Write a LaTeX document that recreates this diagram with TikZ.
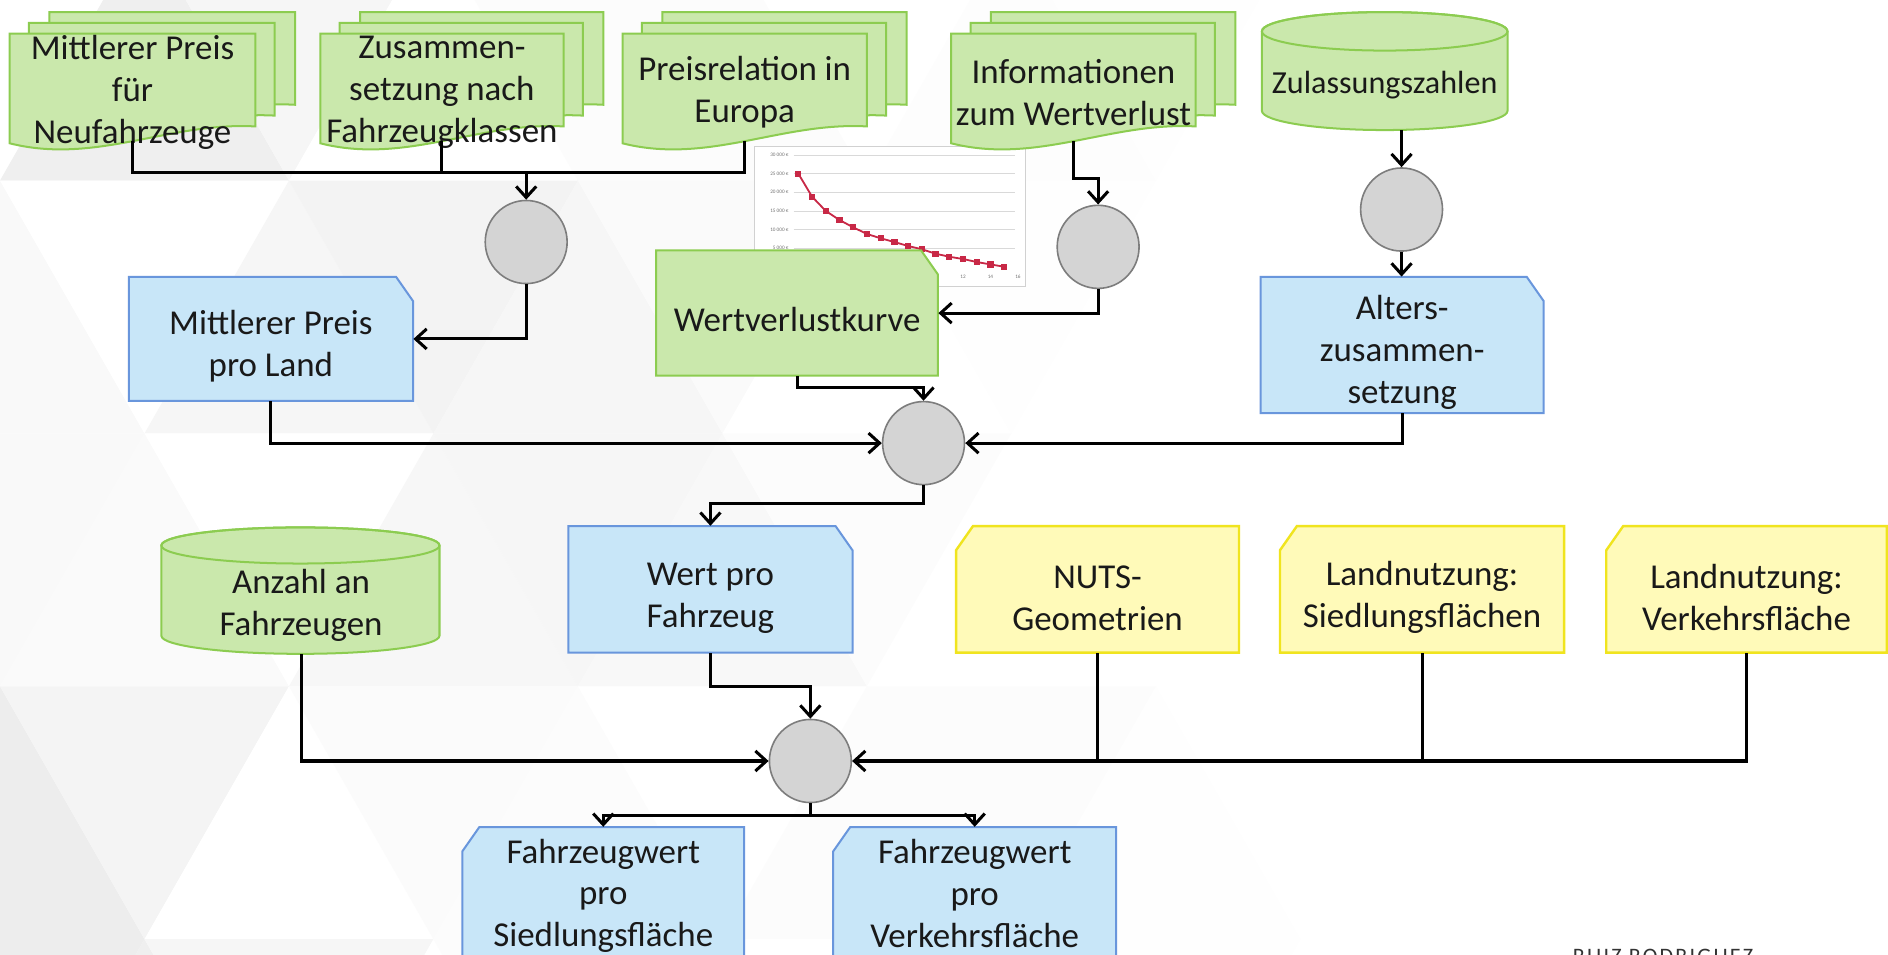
\documentclass[tikz,border=0pt]{standalone}
\usepackage{fontspec}
\setmainfont{Carlito}
\newfontfamily\ruizfont[LetterSpace=10]{Carlito}
\usetikzlibrary{arrows.meta,shapes.geometric,calc,plotmarks}
\pgfdeclarelayer{back}
\pgfdeclarelayer{bg}
\pgfsetlayers{back,bg,main}
\definecolor{gfill}{RGB}{202,232,172}
\definecolor{gline}{RGB}{140,204,80}
\definecolor{bfill}{RGB}{200,230,248}
\definecolor{bline}{RGB}{105,150,220}
\definecolor{yfill}{RGB}{255,250,185}
\definecolor{yline}{RGB}{240,228,30}
\definecolor{cfill}{RGB}{212,212,212}
\definecolor{cline}{RGB}{125,125,125}
\definecolor{curvecol}{RGB}{200,40,70}
\tikzset{
 frame/.style={inner sep=0pt},
 txt/.style={inner sep=0pt, align=center, font=\fontsize{17.4}{20.9}\selectfont, text=black!90},
 gstyle/.style={fill=gfill, draw=gline, line width=1pt},
 bstyle/.style={fill=bfill, draw=bline, line width=1pt},
 ystyle/.style={fill=yfill, draw=yline, line width=1.2pt},
 proc/.style={ellipse, fill=cfill, draw=cline, line width=0.8pt, minimum width=40.8pt, minimum height=41.4pt, inner sep=0pt},
 conn/.style={draw=black, line width=1.5pt},
 arr/.style={conn, -{Straight Barb[length=5.5pt,width=10pt]}},
 tiny/.style={inner sep=0.5pt, font=\fontsize{2.6}{3}\selectfont, text=black!55},
}
\newcommand\docshape[5]{%
 \filldraw[#5] (#1,#2) -- (#3,#2) -- (#3,{#4-14}) .. controls ({#1+0.65*(#3-#1)},{#4-18}) and ({#1+0.35*(#3-#1)},{#4+18}) .. (#1,#4) -- cycle;}
% name x1 y1 x2 yb text
\newcommand\docstack[6]{%
 \begin{pgfonlayer}{bg}
 \begin{scope}[shift={(33,-18)}]\docshape{#2}{#3}{#4}{#5}{gstyle}\end{scope}
 \begin{scope}[shift={(16,-9)}]\docshape{#2}{#3}{#4}{#5}{gstyle}\end{scope}
 \docshape{#2}{#3}{#4}{#5}{gstyle}
 \end{pgfonlayer}
 \node[frame, minimum width={(#4-#2)*0.6pt}, minimum height={(#5-#3-2)*0.6pt}] (#1) at ({(#2+#4)/2},{(#3+#5-2)/2}) {};
 \node[txt] (#1t) at ({(#2+#4)/2},{(#3+#5-2)/2+4}) {#6};}
% name x1 y1 x2 y2 style text dy
\newcommand\boxNE[8]{%
 \begin{pgfonlayer}{bg}
 \filldraw[#6] (#2,#3) -- ({#4-14},#3) -- (#4,{#3+20}) -- (#4,#5) -- (#2,#5) -- cycle;
 \end{pgfonlayer}
 \node[frame, minimum width={(#4-#2)*0.6pt}, minimum height={(#5-#3)*0.6pt}] (#1) at ({(#2+#4)/2},{(#3+#5)/2}) {};
 \node[txt] (#1t) at ({(#2+#4)/2},{(#3+#5)/2+#8}) {#7};}
\newcommand\boxNW[8]{%
 \begin{pgfonlayer}{bg}
 \filldraw[#6] (#2,{#3+20}) -- ({#2+14},#3) -- (#4,#3) -- (#4,#5) -- (#2,#5) -- cycle;
 \end{pgfonlayer}
 \node[frame, minimum width={(#4-#2)*0.6pt}, minimum height={(#5-#3)*0.6pt}] (#1) at ({(#2+#4)/2},{(#3+#5)/2}) {};
 \node[txt] (#1t) at ({(#2+#4)/2},{(#3+#5)/2+#8}) {#7};}
\newcommand\cyl[5]{%
 \begin{pgfonlayer}{bg}
 \filldraw[gstyle] (#1,{#2+#5}) -- (#1,{#4-#5}) arc[start angle=180, end angle=0, x radius={(#3-#1)/2}, y radius=#5] -- (#3,{#2+#5}) arc[start angle=0, end angle=-180, x radius={(#3-#1)/2}, y radius=#5] -- cycle;
 \draw[gstyle, fill=none] ({(#1+#3)/2},{#2+#5}) ellipse [x radius={(#3-#1)/2}, y radius=#5];
 \end{pgfonlayer}}
\begin{document}
\begin{tikzpicture}[x=0.6pt, y=-0.6pt]
\useasboundingbox (0,0) rectangle (1568,793);
% background
\begin{pgfonlayer}{back}
\fill[white] (0,0) rectangle (1568,793);
\foreach \r in {0,...,4}{
 \foreach \c in {-1,...,4}{
  \pgfmathsetmacro\xo{\c*240 + mod(\r,2)*120}
  \pgfmathsetmacro\yt{\r*210-60}
  \pgfmathsetmacro\yb{\yt+210}
  \pgfmathsetmacro\sa{max(0,(mod(\r*3+\c*5+7,4))*2.4*(1-(\xo+120)/1000))}
  \pgfmathsetmacro\sb{max(0,(mod(\r*5+\c*3+2,4))*2.4*(1-(\xo+240)/1000))}
  \fill[black!\sa] (\xo,\yb) -- ({\xo+240},\yb) -- ({\xo+120},\yt) -- cycle;
  \fill[black!\sb] ({\xo+120},\yt) -- ({\xo+360},\yt) -- ({\xo+240},\yb) -- cycle;
 }}
\end{pgfonlayer}
% chart
\begin{pgfonlayer}{bg}
\filldraw[fill=white, draw=black!18, line width=0.5pt] (627,122) rectangle (852,238);
\foreach \yy/\lab [count=\i] in {128.7/30 000 €, 144.2/25 000 €, 159.7/20 000 €, 175.2/15 000 €, 190.7/10 000 €, 206.2/5 000 €}{
 \draw[black!15, line width=0.4pt] (659,\yy) -- (843,\yy);
 \node[tiny, anchor=east] (cyl\i) at (656,\yy) {\lab};}
\foreach \xx/\lab [count=\i] in {799.8/12, 822.6/14, 845.4/16}
 \node[tiny] (cxl\i) at (\xx,229.8) {\lab};
\draw[curvecol, line width=0.9pt, mark=square*, mark size=1.1pt, mark options={fill=curvecol}] plot coordinates {(663,144.2) (674.4,163.3) (685.8,175.2) (697.2,182.7) (708.6,188.8) (720,194.3) (731.4,197.9) (742.8,201.0) (754.2,204.3) (765.6,207.0) (777,210.7) (788.4,213.2) (799.8,215.1) (811.2,217.6) (822.6,219.6) (834,221.5)};
\end{pgfonlayer}
% top documents
\docstack{d1}{8}{28}{212}{119}{Mittlerer Preis\\für\\Neufahrzeuge}
\docstack{d2}{266}{28}{468}{119}{Zusammen-\\setzung nach\\Fahrzeugklassen}
\docstack{d3}{517}{28}{720}{119}{Preisrelation in\\Europa}
\docstack{d4}{790}{28}{993}{119}{Informationen\\zum Wertverlust}
% cylinders
\cyl{1048}{10}{1252}{108}{16}
\node[frame, minimum width=122.4pt, minimum height=48pt] (zul) at (1150,68) {};
\node[txt, font=\fontsize{16}{20.9}\selectfont] (zult) at (1150,71) {Zulassungszahlen};
\cyl{134}{438}{365}{543}{15}
\node[frame, minimum width=138.6pt, minimum height=51pt] (anz) at (250,500.5) {};
\node[txt] (anzt) at (250,502.5) {Anzahl an\\Fahrzeugen};
% boxes
\boxNE{b1}{107}{230}{343}{333}{bstyle}{Mittlerer Preis\\pro Land}{6}
\boxNE{wvk}{545}{208}{779}{312}{gstyle}{Wertverlustkurve}{5}
\boxNE{b2}{1047}{230}{1282}{343}{bstyle}{Alters-\\zusammen-\\setzung}{6}
\boxNE{b3}{472}{437}{708}{542}{bstyle}{Wert pro\\Fahrzeug}{7}
\boxNW{y1}{794}{437}{1029}{542}{ystyle}{NUTS-\\Geometrien}{7}
\boxNW{y2}{1063}{437}{1299}{542}{ystyle}{Landnutzung:\\Siedlungsflächen}{7}
\boxNW{y3}{1334}{437}{1567}{542}{ystyle}{Landnutzung:\\Verkehrsfläche}{7}
\boxNW{b4}{384}{687}{618}{801}{bstyle}{Fahrzeugwert\\pro\\Siedlungsfläche}{0}
\boxNW{b5}{692}{687}{927}{801}{bstyle}{Fahrzeugwert\\pro\\Verkehrsfläche}{-2}
% process circles
\node[proc] (c1) at (437,201) {};
\node[proc] (c2) at (912,205) {};
\node[proc] (c3) at (1164,174) {};
\node[proc] (c4) at (767,368) {};
\node[proc] (c5) at (673,632) {};
% connectors
\coordinate (j1) at (437,143);
\draw[conn] (d1.south) |- (j1);
\draw[conn] (d2.south) -- (d2.south |- j1);
\draw[conn] (d3.south) |- (j1);
\draw[arr] (j1) -- (c1);
\draw[arr] (c1.south) |- (b1.east);
\coordinate (j2) at (912,148);
\draw[arr] (d4.south) |- (j2) -- (c2);
\draw[arr] (c2.south) |- (wvk.east);
\draw[arr] (zul.south -| c3) -- (c3);
\draw[arr] (c3) -- (c3 |- b2.north);
\coordinate (j3) at (767,322);
\draw[arr] (wvk.south) |- (j3) -- (c4);
\draw[arr] (b1.south) |- (c4.west);
\draw[arr] (b2.south) |- (c4.east);
\coordinate (j4) at (590,418);
\draw[arr] (c4.south) |- (j4) -- (b3.north);
\coordinate (j5) at (673,570);
\draw[arr] (b3.south) |- (j5) -- (c5);
\draw[arr] (anz.south) |- (c5.west);
\draw[conn] (y1.south) -- (y1.south |- c5);
\draw[conn] (y2.south) -- (y2.south |- c5);
\draw[arr] (y3.south) |- (c5.east);
\coordinate (j7) at (673,677);
\draw[conn] (c5.south) -- (j7);
\draw[arr] (j7) -| (b4.north);
\draw[arr] (j7) -| (b5.north);
% credit
\node[anchor=north west, inner sep=0pt, font=\ruizfont\fontsize{11}{11}\selectfont, text=black!80] (ruiz) at (1306,788) {RUIZ RODRIGUEZ};
\end{tikzpicture}
\end{document}
